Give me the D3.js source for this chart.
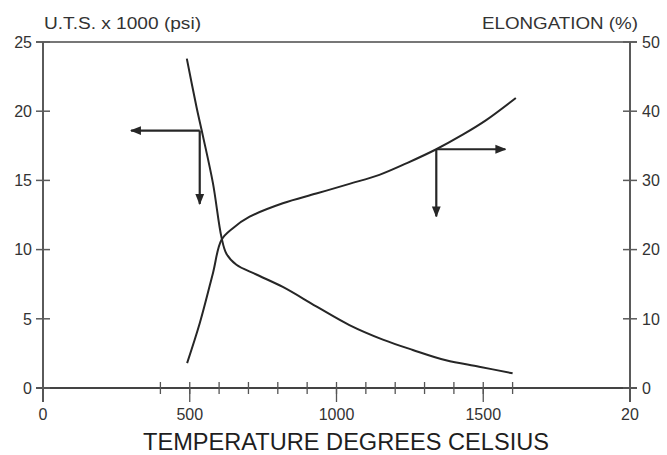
<!DOCTYPE html>
<html>
<head>
<meta charset="utf-8">
<script src="https://cdn.jsdelivr.net/npm/d3@7"></script>
<style>
  body { margin: 0; background: #fff; }
  svg { display: block; font-family: "Liberation Sans", Arial, sans-serif; }
</style>
</head>
<body>
<svg id="chart" width="667" height="455"></svg>
<script>
// temperature (deg C) vs U.T.S. (x1000 psi)
var utsTemp = [490, 523, 545, 579, 608, 625, 659, 727, 817, 931, 1044, 1158, 1260, 1373, 1486, 1600];
var utsVal  = [23.8, 20.3, 18.2, 14.8, 10.9, 9.7, 8.9, 8.2, 7.3, 5.9, 4.55, 3.5, 2.75, 2.0, 1.54, 1.06];
// temperature vs elongation (%)
var elongTemp = [491, 534, 579, 608, 647, 704, 817, 931, 1044, 1146, 1240, 1340, 1430, 1510, 1611];
var elongVal  = [3.6, 9.35, 16.6, 21.4, 23.1, 24.75, 26.7, 28.1, 29.5, 30.8, 32.5, 34.5, 36.6, 38.7, 41.9];

var xMajor = [0, 500, 1000, 1500, 2000];
var xMajorLabels = ["0", "500", "1000", "1500", "20"];
var xMinor = [400, 500, 600, 700, 800, 900, 1000, 1100, 1200, 1300, 1400, 1500, 1600];
var leftTicks = [0, 5, 10, 15, 20, 25];
var rightTicks = [0, 10, 20, 30, 40, 50];

// arrows: origin [temp, value], horizontal end temp, vertical end value
var utsArrow = {t: 534, v: 18.6, tEnd: 300, vEnd: 13.3};
var elongArrow = {t: 1340, v: 34.5, tEnd: 1575, vEnd: 24.8};

var svg = d3.select("#chart");
var axisColor = "#5a5a5a", lineColor = "#262626", textColor = "#333";

var x = d3.scaleLinear().domain([0, 2000]).range([43, 630]);
var yL = d3.scaleLinear().domain([0, 25]).range([388, 42]);
var yR = d3.scaleLinear().domain([0, 50]).range([388, 42]);

var defs = svg.append("defs");
defs.append("marker").attr("id", "head").attr("viewBox", "0 0 10 10")
  .attr("refX", 9).attr("refY", 5).attr("markerWidth", 5).attr("markerHeight", 5)
  .attr("orient", "auto")
  .append("path").attr("d", "M0,1 L10,5 L0,9 Z").attr("fill", lineColor);

// frame
var frame = svg.append("g").attr("stroke", axisColor).attr("stroke-width", 2).attr("fill", "none");
frame.append("line").attr("x1", x(0) - 7).attr("x2", x(2000) + 7).attr("y1", yL(25)).attr("y2", yL(25)).attr("stroke", "#777");
frame.append("line").attr("x1", x(0) - 7).attr("x2", x(2000) + 7).attr("y1", yL(0)).attr("y2", yL(0)).attr("stroke", "#444");
frame.append("line").attr("x1", x(0)).attr("x2", x(0)).attr("y1", yL(25)).attr("y2", yL(0) + 14);
frame.append("line").attr("x1", x(2000)).attr("x2", x(2000)).attr("y1", yL(25)).attr("y2", yL(0) + 14);

// left ticks
svg.append("g").selectAll("line").data(leftTicks).enter().append("line")
  .attr("x1", x(0) - 7).attr("x2", x(0) + 7)
  .attr("y1", function(d) { return yL(d); }).attr("y2", function(d) { return yL(d); })
  .attr("stroke", axisColor).attr("stroke-width", 1.5);
svg.append("g").selectAll("text").data(leftTicks).enter().append("text")
  .attr("x", 32).attr("y", function(d) { return yL(d); }).attr("dy", "0.36em")
  .attr("text-anchor", "end").attr("font-size", 16).attr("fill", textColor)
  .text(function(d) { return d; });

// right ticks
svg.append("g").selectAll("line").data(rightTicks).enter().append("line")
  .attr("x1", x(2000) - 7).attr("x2", x(2000) + 7)
  .attr("y1", function(d) { return yR(d); }).attr("y2", function(d) { return yR(d); })
  .attr("stroke", axisColor).attr("stroke-width", 1.5);
svg.append("g").selectAll("text").data(rightTicks).enter().append("text")
  .attr("x", 642).attr("y", function(d) { return yR(d); }).attr("dy", "0.36em")
  .attr("text-anchor", "start").attr("font-size", 16).attr("fill", textColor)
  .text(function(d) { return d; });

// bottom ticks
svg.append("g").selectAll("line").data(xMinor).enter().append("line")
  .attr("x1", function(d) { return x(d); }).attr("x2", function(d) { return x(d); })
  .attr("y1", yL(0) - 6).attr("y2", yL(0) + 6)
  .attr("stroke", "#555").attr("stroke-width", 1.3);
svg.append("g").selectAll("line").data(xMajor).enter().append("line")
  .attr("x1", function(d) { return x(d); }).attr("x2", function(d) { return x(d); })
  .attr("y1", yL(0)).attr("y2", yL(0) + 14)
  .attr("stroke", "#555").attr("stroke-width", 1.3);
svg.append("g").selectAll("text").data(xMajor).enter().append("text")
  .attr("x", function(d) { return x(d); }).attr("y", 420)
  .attr("text-anchor", "middle").attr("font-size", 16).attr("fill", textColor)
  .text(function(d, i) { return xMajorLabels[i]; });

// titles
svg.append("text").attr("x", 44).attr("y", 29).attr("font-size", 16).attr("fill", textColor)
  .attr("textLength", 157).attr("lengthAdjust", "spacingAndGlyphs")
  .text("U.T.S. x 1000 (psi)");
svg.append("text").attr("x", 638).attr("y", 29).attr("text-anchor", "end").attr("font-size", 16).attr("fill", textColor)
  .attr("textLength", 156).attr("lengthAdjust", "spacingAndGlyphs")
  .text("ELONGATION (%)");
svg.append("text").attr("x", 346).attr("y", 450).attr("text-anchor", "middle").attr("font-size", 23).attr("fill", "#1e1e1e")
  .attr("textLength", 406).attr("lengthAdjust", "spacingAndGlyphs")
  .text("TEMPERATURE DEGREES CELSIUS");

// curves
var lineL = d3.line().curve(d3.curveCatmullRom)
  .x(function(d) { return x(d[0]); }).y(function(d) { return yL(d[1]); });
var lineR = d3.line().curve(d3.curveCatmullRom)
  .x(function(d) { return x(d[0]); }).y(function(d) { return yR(d[1]); });

svg.append("path").datum(d3.zip(utsTemp, utsVal)).attr("d", lineL)
  .attr("fill", "none").attr("stroke", lineColor).attr("stroke-width", 2);
svg.append("path").datum(d3.zip(elongTemp, elongVal)).attr("d", lineR)
  .attr("fill", "none").attr("stroke", lineColor).attr("stroke-width", 2);

// arrows
function arrows(a, y) {
  var g = svg.append("g").attr("stroke", lineColor).attr("stroke-width", 2.2);
  g.append("line").attr("x1", x(a.t)).attr("y1", y(a.v)).attr("x2", x(a.tEnd)).attr("y2", y(a.v))
    .attr("marker-end", "url(#head)");
  g.append("line").attr("x1", x(a.t)).attr("y1", y(a.v)).attr("x2", x(a.t)).attr("y2", y(a.vEnd))
    .attr("marker-end", "url(#head)");
}
arrows(utsArrow, yL);
arrows(elongArrow, yR);
</script>
</body>
</html>
